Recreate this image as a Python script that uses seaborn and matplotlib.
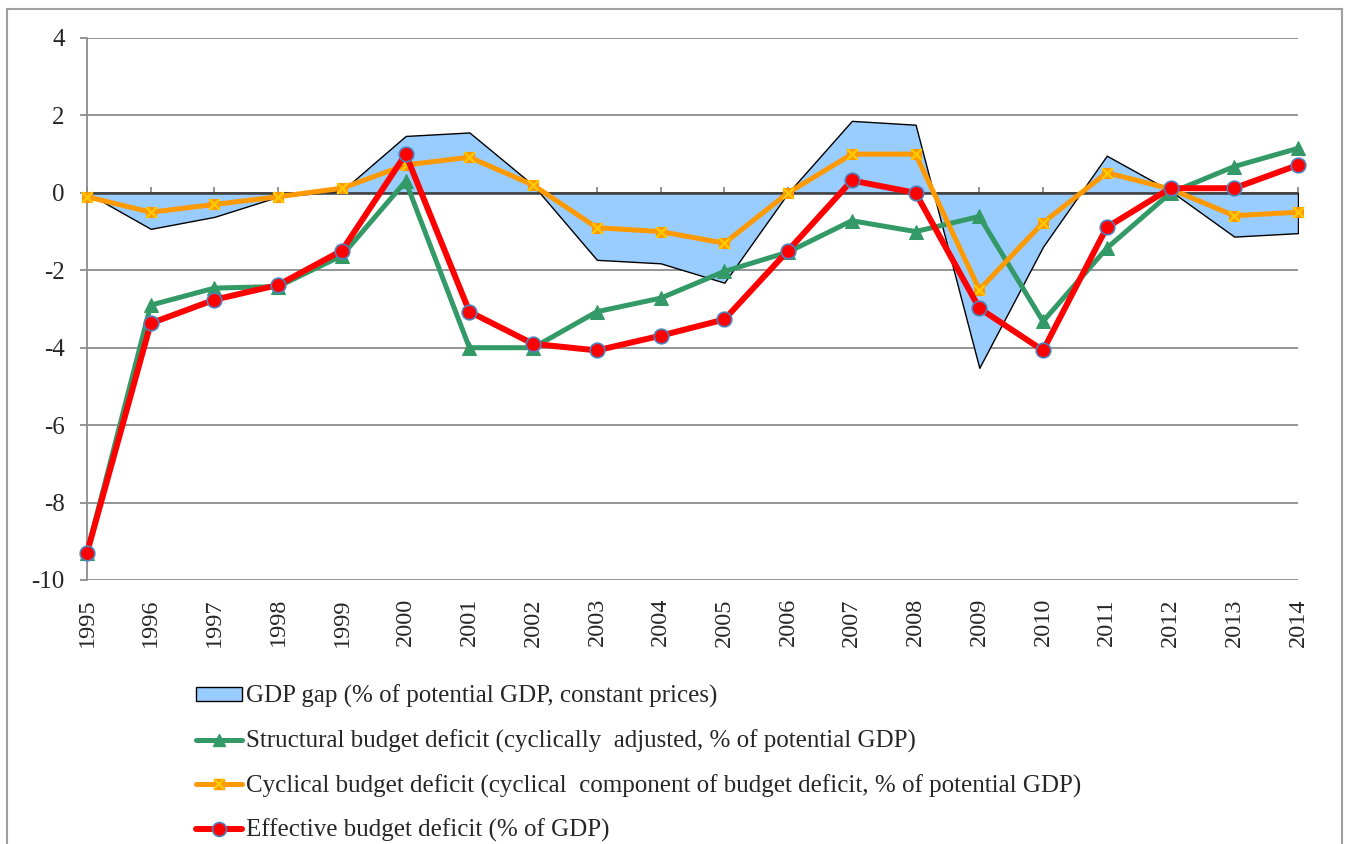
import matplotlib
matplotlib.use('Agg')
import matplotlib.pyplot as plt
import seaborn as sns
from matplotlib.patches import Patch, Rectangle
from matplotlib.lines import Line2D
from matplotlib.legend_handler import HandlerTuple

years = list(range(1995, 2015))
gdp_gap = [0.0, -0.93, -0.62, -0.1, 0.05, 1.47, 1.56, 0.2, -1.73, -1.82, -2.32,
           0.0, 1.86, 1.76, -4.52, -1.39, 0.96, 0.05, -1.13, -1.04]
structural = [-9.3, -2.9, -2.46, -2.42, -1.62, 0.3, -4.0, -4.0, -3.07, -2.72, -2.03,
              -1.53, -0.72, -1.0, -0.61, -3.32, -1.43, 0.0, 0.68, 1.15]
cyclical = [-0.1, -0.5, -0.3, -0.1, 0.12, 0.72, 0.92, 0.2, -0.9, -1.0, -1.3,
            0.0, 1.0, 1.0, -2.5, -0.77, 0.52, 0.1, -0.59, -0.5]
effective = [-9.3, -3.37, -2.76, -2.38, -1.49, 1.0, -3.07, -3.9, -4.07, -3.69, -3.27,
             -1.49, 0.32, 0.0, -2.98, -4.07, -0.89, 0.12, 0.12, 0.72]
y_ticks = [4, 2, 0, -2, -4, -6, -8, -10]

labels = [
    "GDP gap (% of potential GDP, constant prices)",
    "Structural budget deficit (cyclically  adjusted, % of potential GDP)",
    "Cyclical budget deficit (cyclical  component of budget deficit, % of potential GDP)",
    "Effective budget deficit (% of GDP)",
]

sns.set_theme(style="white")
plt.rcParams['font.family'] = ['Liberation Serif', 'DejaVu Serif']
plt.rcParams['axes.unicode_minus'] = False

GRID = '#8c8c8c'
BLUE = '#99ccff'
GREEN = '#339966'
ORANGE = '#ff9900'
YELLOW = '#ffcc00'
RED = '#ff0000'
EDGE = '#4f81bd'

fig = plt.figure(figsize=(13.46, 8.44), dpi=100)
ax = fig.add_axes([87/1346, 1-580/844, (1298-87)/1346, (580-38)/844])

# outer border
fig.patches.append(Rectangle((7/1346, -0.05), (1342-7)/1346, 1.05 - 9/844,
                             transform=fig.transFigure, fill=False,
                             edgecolor='#a0a0a0', linewidth=1.5, zorder=0))

ax.fill_between(years, gdp_gap, 0, facecolor=BLUE, edgecolor='black',
                linewidth=1.0, zorder=2)

sns.lineplot(x=years, y=structural, ax=ax, color=GREEN, linewidth=3.6,
             marker='^', markersize=10, markerfacecolor=GREEN,
             markeredgecolor=GREEN, zorder=4, clip_on=False)
sns.lineplot(x=years, y=cyclical, ax=ax, color=ORANGE, linewidth=3.6,
             marker='s', markersize=7, markerfacecolor=ORANGE,
             markeredgecolor=ORANGE, zorder=5, clip_on=False)
sns.scatterplot(x=years, y=cyclical, ax=ax, marker='x', s=60, color=YELLOW,
                linewidth=1.6, zorder=5.5, clip_on=False)
sns.lineplot(x=years, y=effective, ax=ax, color=RED, linewidth=4.3,
             marker='o', markersize=10.5, markerfacecolor=RED,
             markeredgecolor=EDGE, markeredgewidth=1.2, zorder=6, clip_on=False)

ax.set_xlim(1995, 2014)
ax.set_ylim(-10, 4)
ax.set_yticks(y_ticks)
ax.set_yticklabels([str(v) for v in y_ticks])
ax.grid(axis='y', color=GRID, linewidth=1.3)
ax.grid(axis='x', visible=False)
ax.set_axisbelow(True)

for s in ['top', 'right', 'bottom']:
    ax.spines[s].set_visible(False)
ax.spines['left'].set_color(GRID)
ax.spines['left'].set_linewidth(1.3)

ax.tick_params(axis='y', direction='out', length=5, width=1.3, color=GRID,
               pad=11, labelsize=18, left=True)
ax.set_xticks(years)
ax.set_xticklabels([str(y) for y in years], rotation=90)
ax.tick_params(axis='x', length=0, pad=13, labelsize=17.5)

# zero axis line with tick marks
ax.axhline(0, color='#404040', linewidth=1.8, zorder=3)
sec = ax.secondary_xaxis(10/14)
sec.set_xticks(years)
sec.set_xticklabels([])
sec.tick_params(axis='x', direction='out', length=4, width=1.3, color=GRID)
for s in sec.spines.values():
    s.set_visible(False)

ax.set_xlabel('')
ax.set_ylabel('')

h_gap = Patch(facecolor=BLUE, edgecolor='black', linewidth=1.0)
h_str = Line2D([], [], color=GREEN, linewidth=3.6, marker='^', markersize=9,
               markerfacecolor=GREEN, markeredgecolor=GREEN)
h_cyc_line = Line2D([], [], color=ORANGE, linewidth=3.6, marker='s', markersize=7,
                    markerfacecolor=ORANGE, markeredgecolor=ORANGE)
h_cyc_x = Line2D([], [], linestyle='none', marker='x', markersize=7,
                 markeredgecolor=YELLOW, markeredgewidth=1.6)
h_eff = Line2D([], [], color=RED, linewidth=4.3, marker='o', markersize=10,
               markerfacecolor=RED, markeredgecolor=EDGE, markeredgewidth=1.2)

fig.legend([h_gap, h_str, (h_cyc_line, h_cyc_x), h_eff], labels, loc='upper left',
           bbox_to_anchor=(196/1346, 1-685/844), frameon=False,
           fontsize=18, handlelength=1.84, handleheight=0.48, handletextpad=0.16,
           labelspacing=0.85, borderpad=0, borderaxespad=0,
           handler_map={tuple: HandlerTuple(ndivide=1, pad=0)})

fig.savefig('out.png', dpi=100)
